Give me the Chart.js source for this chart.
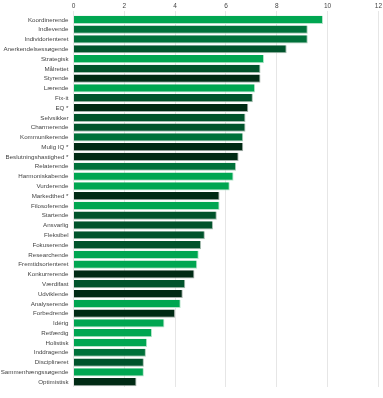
<!DOCTYPE html>
<html>
<head>
<meta charset="utf-8">
<script src="https://cdn.jsdelivr.net/npm/chart.js@4"></script>
<style>
  html, body { margin: 0; padding: 0; background: #fff; }
  #chart { display: block; }
</style>
</head>
<body>
<canvas id="chart" width="383" height="398"></canvas>
<script>
// Categories, top to bottom
const labels = [
  'Koordinerende', 'Indlevende', 'Individorienteret', 'Anerkendelsessøgende',
  'Strategisk', 'Målrettet', 'Styrende', 'Lærende', 'Fix-it', 'EQ *',
  'Selvsikker', 'Charmerende', 'Kommunikerende', 'Mulig IQ *',
  'Beslutningshastighed *', 'Relaterende', 'Harmoniskabende', 'Vurderende',
  'Markedthed *', 'Filosoferende', 'Startende', 'Ansvarlig', 'Fleksibel',
  'Fokuserende', 'Researchende', 'Fremtidsorienteret', 'Konkurrerende',
  'Værdifast', 'Udviklende', 'Analyserende', 'Forbedrende', 'Idérig',
  'Retfærdig', 'Holistisk', 'Inddragende', 'Disciplineret',
  'Sammenhængssøgende', 'Optimistisk'
];

// Scores
const scores = [
  9.82, 9.22, 9.22, 8.39,
  7.50, 7.36, 7.36, 7.15, 7.06, 6.88,
  6.77, 6.77, 6.68, 6.68,
  6.50, 6.40, 6.30, 6.15,
  5.75, 5.75, 5.64, 5.49, 5.17,
  5.02, 4.93, 4.87, 4.76,
  4.40, 4.30, 4.22, 4.00, 3.58,
  3.09, 2.90, 2.85, 2.77,
  2.77, 2.48
];

// Axis ticks
const xTicks = [0, 2, 4, 6, 8, 10, 12];

// Shade per bar (style): b = bright, m = medium, d = dark, v = very dark
const shadeKeys = [
  'b', 'm', 'm', 'd',
  'b', 'd', 'v', 'b', 'd', 'v',
  'd', 'd', 'm', 'v',
  'v', 'm', 'b', 'b',
  'v', 'b', 'd', 'd', 'd',
  'd', 'b', 'b', 'v',
  'd', 'v', 'b', 'v', 'b',
  'b', 'b', 'm', 'd',
  'b', 'v'
];
const shades = {
  b: '#00a651',
  m: '#00713a',
  d: '#00532b',
  v: '#002a14'
};
const edges = {
  b: '#b5e4cb',
  m: '#a9cdb8',
  d: '#a5bcaf',
  v: '#a5b0aa'
};

const ctx = document.getElementById('chart');
new Chart(ctx, {
  type: 'bar',
  data: {
    labels: labels,
    datasets: [{
      data: scores,
      backgroundColor: shadeKeys.map(k => shades[k]),
      borderColor: shadeKeys.map(k => edges[k]),
      borderWidth: { right: 1, bottom: 1 },
      borderSkipped: 'left',
      categoryPercentage: 1.0,
      barPercentage: 0.84
    }]
  },
  options: {
    indexAxis: 'y',
    responsive: false,
    animation: false,
    layout: { padding: { left: 0, right: 4, top: 0, bottom: 11 } },
    plugins: {
      legend: { display: false },
      tooltip: { enabled: false }
    },
    scales: {
      x: {
        position: 'top',
        min: 0,
        max: 12,
        afterBuildTicks: (scale) => {
          scale.ticks = xTicks.map(v => ({ value: v }));
        },
        afterFit: (scale) => { scale.height = 15; },
        border: { display: false },
        grid: {
          color: '#e6e6e6',
          lineWidth: 1,
          drawTicks: true,
          tickLength: 4,
          tickColor: '#e6e6e6'
        },
        ticks: {
          color: '#444',
          padding: 1,
          font: { family: 'Liberation Sans, Arial, sans-serif', size: 6.5 }
        }
      },
      y: {
        afterFit: (scale) => { scale.width = 73.5; },
        border: { display: false },
        grid: { display: false, drawTicks: false },
        ticks: {
          color: '#444',
          padding: 5,
          autoSkip: false,
          font: { family: 'Liberation Sans, Arial, sans-serif', size: 6.2 }
        }
      }
    }
  }
});
</script>
</body>
</html>
